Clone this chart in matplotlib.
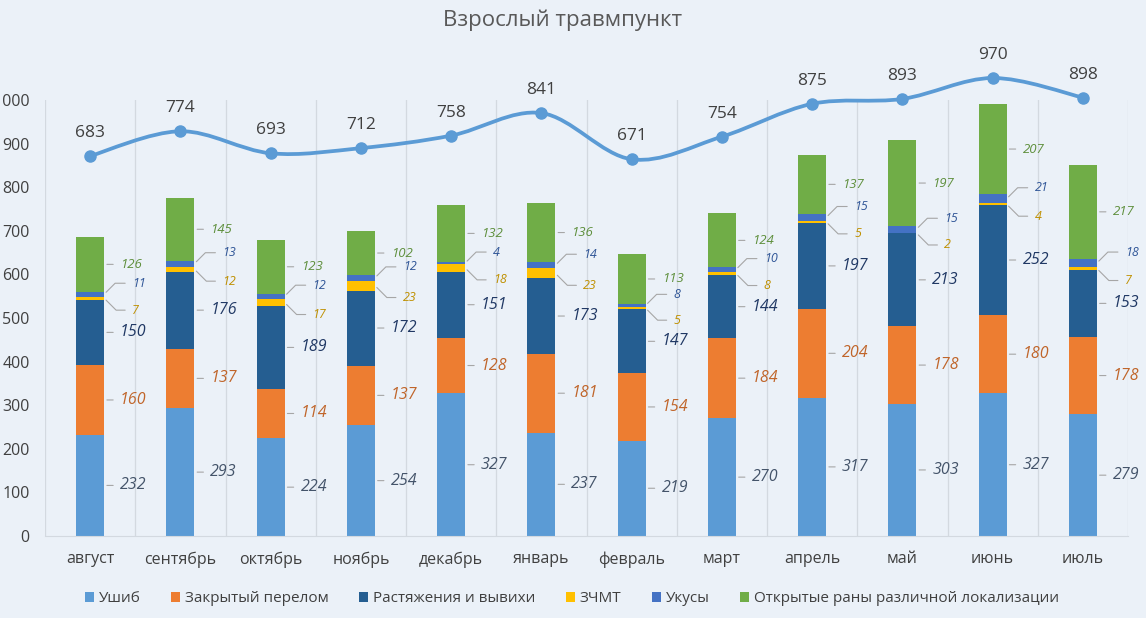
import matplotlib.pyplot as plt
from matplotlib.path import Path
from matplotlib.patches import PathPatch

plt.rcParams["font.family"] = ["Open Sans", "DejaVu Sans"]

months = ["август", "сентябрь", "октябрь", "ноябрь", "декабрь", "январь",
          "февраль", "март", "апрель", "май", "июнь", "июль"]
series_names = ["Ушиб", "Закрытый перелом", "Растяжения и вывихи", "ЗЧМТ",
                "Укусы", "Открытые раны различной локализации"]
ushib = [232, 293, 224, 254, 327, 237, 219, 270, 317, 303, 327, 279]
perelom = [160, 137, 114, 137, 128, 181, 154, 184, 204, 178, 180, 178]
rastyazh = [150, 176, 189, 172, 151, 173, 147, 144, 197, 213, 252, 153]
zchmt = [7, 12, 17, 23, 18, 23, 5, 8, 5, 2, 4, 7]
ukusy = [11, 13, 12, 12, 4, 14, 8, 10, 15, 15, 21, 18]
rany = [126, 145, 123, 102, 132, 136, 113, 124, 137, 197, 207, 217]
total = [683, 774, 693, 712, 758, 841, 671, 754, 875, 893, 970, 898]

series = [ushib, perelom, rastyazh, zchmt, ukusy, rany]
colors = ["#5B9BD5", "#ED7D31", "#255E91", "#FFC000", "#4472C4", "#70AD47"]
label_colors = ["#44546A", "#C0652A", "#203864", "#BF9000", "#2F5597", "#5E8F3C"]
label_sizes = [11.5, 11.5, 11.5, 9, 9, 9.5]
bg = "#EBF1F8"

fig = plt.figure(figsize=(11.46, 6.18), dpi=100, facecolor=bg)
ax = fig.add_axes([45 / 1146, 82 / 618, 1083 / 1146, 436 / 618])
ax.set_facecolor(bg)
x = list(range(len(months)))
w = 0.31

bottoms = [0] * len(months)
handles = []
for s, vals in enumerate(series):
    h = ax.bar(x, vals, w, bottom=bottoms, color=colors[s], label=series_names[s], zorder=2)
    handles.append(h)
    for j, v in enumerate(vals):
        ymid = bottoms[j] + v / 2
        edge = (j + w / 2, ymid)
        if s == 3:
            dx, dy, cs = 28, -12, "angle,angleA=0,angleB=-45,rad=0"
        elif s == 4:
            dx, dy, cs = 28, 11, "angle,angleA=0,angleB=45,rad=0"
        else:
            dx, dy, cs = 16, 0, "arc3"
        ax.annotate(str(v), xy=edge, xytext=(dx, dy), textcoords="offset pixels",
                    ha="left", va="center", fontsize=label_sizes[s], style="italic",
                    color=label_colors[s], zorder=4,
                    arrowprops=dict(arrowstyle="-", color="#A6A6A6", lw=0.8,
                                    shrinkA=3, shrinkB=2, relpos=(0, 0.5),
                                    connectionstyle=cs))
    bottoms = [b + v for b, v in zip(bottoms, vals)]

ax.set_xlim(-0.5, len(months) - 0.5)
ax.set_ylim(0, 1000)
ax.set_yticks(range(0, 1001, 100))
ax.set_yticklabels([f"{t:,}".replace(",", " ") for t in range(0, 1001, 100)])
ax.set_xticks(x)
ax.set_xticklabels(months)
ax.tick_params(axis="both", length=0, labelsize=11.5, colors="#404040")
ax.tick_params(axis="x", pad=11)
ax.tick_params(axis="y", pad=11)
for k in range(len(months) + 1):
    ax.axvline(k - 0.5, color="#D3D9E0", lw=0.9, zorder=1)
for sp in ["top", "right", "left"]:
    ax.spines[sp].set_visible(False)
ax.spines["bottom"].set_color("#D3D9E0")

# total line on a hidden secondary axis, smoothed with bezier segments
ax2 = ax.twinx()
ax2.set_ylim(-715, 889)
ax2.axis("off")
pts = list(zip(x, total))
verts = [pts[0]]
codes = [Path.MOVETO]
for i in range(len(pts) - 1):
    p0 = pts[i - 1] if i > 0 else pts[i]
    p1, p2 = pts[i], pts[i + 1]
    p3 = pts[i + 2] if i + 2 < len(pts) else pts[i + 1]
    c1 = (p1[0] + (p2[0] - p0[0]) / 6, p1[1] + (p2[1] - p0[1]) / 6)
    c2 = (p2[0] - (p3[0] - p1[0]) / 6, p2[1] - (p3[1] - p1[1]) / 6)
    verts += [c1, c2, p2]
    codes += [Path.CURVE4] * 3
ax2.add_patch(PathPatch(Path(verts, codes), facecolor="none", edgecolor="#5B9BD5",
                        lw=2.7, clip_on=False, zorder=5, capstyle="round"))
ax2.plot(x, total, "o", color="#5B9BD5", ms=8, clip_on=False, zorder=6)
for xi, t in zip(x, total):
    ax2.annotate(str(t), (xi, t), xytext=(0, 23), textcoords="offset pixels",
                 ha="center", va="center", fontsize=12.5, color="#404040",
                 annotation_clip=False)

fig.text(563 / 1146, 1 - 20 / 618, "Взрослый травмпункт", ha="center", va="center",
         fontsize=16, color="#595959")
fig.legend(handles=handles, loc="center", bbox_to_anchor=(572 / 1146, 19 / 618), ncol=6,
           frameon=False, fontsize=11, handlelength=0.6, handleheight=0.6,
           handletextpad=0.3, columnspacing=2.0, labelcolor="#404040")

fig.savefig("out.png", dpi=100, facecolor=bg)
